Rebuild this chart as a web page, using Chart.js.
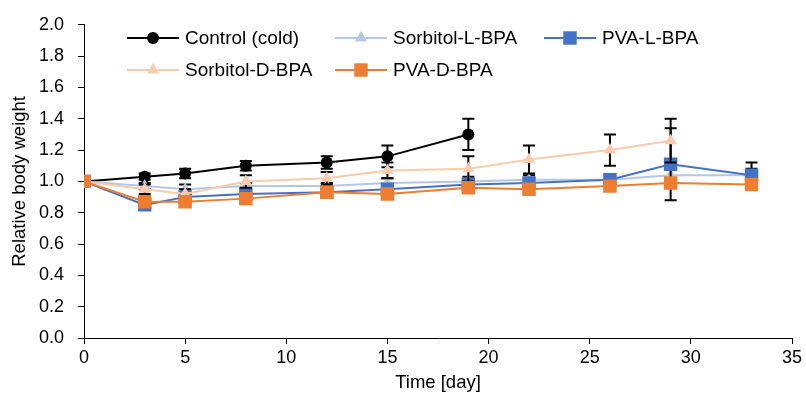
<!DOCTYPE html>
<html>
<head>
<meta charset="utf-8">
<script src="https://cdn.jsdelivr.net/npm/chart.js@4/dist/chart.umd.min.js"></script>
<style>
  body { margin: 0; background: #fff; }
  canvas { display: block; }
</style>
</head>
<body>
<canvas id="bwChart" width="806" height="401"></canvas>
<script>
const days = [0, 3, 5, 8, 12, 15, 19, 22, 26, 29, 33];
const xTicks = [0, 5, 10, 15, 20, 25, 30, 35];
const yTicks = [0, 0.2, 0.4, 0.6, 0.8, 1.0, 1.2, 1.4, 1.6, 1.8, 2.0];

const control = [1.00, 1.03, 1.05, 1.10, 1.12, 1.16, 1.30];
const controlErr = [0, 0.02, 0.03, 0.03, 0.04, 0.07, 0.10];
const sorbitolL = [1.00, 0.97, 0.95, 0.97, 0.97, 0.99, 1.00, 1.01, 1.01, 1.04, 1.04];
const sorbitolLErr = [0, 0.02, 0.03, 0.02, 0.02, 0.03, 0.03, 0.03, 0.03, 0.04, 0.04];
const pvaL = [1.00, 0.85, 0.90, 0.92, 0.93, 0.95, 0.98, 0.99, 1.01, 1.11, 1.04];
const pvaLErr = [0, 0.03, 0.03, 0.03, 0.03, 0.03, 0.03, 0.03, 0.03, 0.23, 0.08];
const sorbitolD = [1.00, 0.95, 0.92, 1.00, 1.02, 1.07, 1.08, 1.14, 1.20, 1.26];
const sorbitolDErr = [0, 0.03, 0.03, 0.04, 0.04, 0.05, 0.08, 0.09, 0.10, 0.14];
const pvaD = [1.00, 0.87, 0.87, 0.89, 0.93, 0.92, 0.96, 0.95, 0.97, 0.99, 0.98];
const pvaDErr = [0, 0.02, 0.02, 0.02, 0.02, 0.02, 0.02, 0.02, 0.02, 0.02, 0.03];

function toPoints(values) {
  return values.map((v, i) => ({ x: days[i], y: v }));
}

function makeDataset(label, values, errors, color, style, radius, order) {
  return {
    label: label,
    data: toPoints(values),
    errors: errors,
    borderColor: color,
    backgroundColor: color,
    pointBackgroundColor: color,
    pointBorderColor: color,
    pointBorderWidth: 0,
    pointStyle: style,
    pointRadius: radius,
    borderWidth: 2,
    tension: 0,
    fill: false,
    order: order,
  };
}

// draws the error bars under each series' line and markers
const errorBars = {
  id: "errorBars",
  beforeDatasetDraw(chart, args) {
    const ds = chart.data.datasets[args.index];
    if (!ds.errors) return;
    const ctx = chart.ctx;
    const xs = chart.scales.x;
    const ys = chart.scales.y;
    ctx.save();
    ctx.strokeStyle = "#000";
    ctx.lineWidth = 2;
    ds.data.forEach((p, i) => {
      const e = ds.errors[i];
      if (!e) return;
      const x = xs.getPixelForValue(p.x);
      const top = ys.getPixelForValue(p.y + e);
      const bot = ys.getPixelForValue(p.y - e);
      ctx.beginPath();
      ctx.moveTo(x, top); ctx.lineTo(x, bot);
      ctx.moveTo(x - 6, top); ctx.lineTo(x + 6, top);
      ctx.moveTo(x - 6, bot); ctx.lineTo(x + 6, bot);
      ctx.stroke();
    });
    ctx.restore();
  },
};

function drawMarker(ctx, style, r, x, y) {
  ctx.beginPath();
  if (style === "circle") {
    ctx.arc(x, y, r, 0, Math.PI * 2);
  } else if (style === "rect") {
    const s = r * Math.SQRT1_2;
    ctx.rect(x - s, y - s, 2 * s, 2 * s);
  } else {
    for (let k = 0; k < 3; k++) {
      const a = k * 2 * Math.PI / 3;
      const px = x + Math.sin(a) * r, py = y - Math.cos(a) * r;
      if (k === 0) ctx.moveTo(px, py); else ctx.lineTo(px, py);
    }
    ctx.closePath();
  }
  ctx.fill();
}

// legend inside the plot, two rows like the excel original
const insideLegend = {
  id: "insideLegend",
  afterDraw(chart) {
    const ctx = chart.ctx;
    const slots = [[127, 38], [335, 38], [544, 38], [127, 70], [335, 70]];
    ctx.save();
    ctx.font = "19px 'Liberation Sans', Arial, sans-serif";
    ctx.textBaseline = "middle";
    chart.data.datasets.forEach((ds, i) => {
      const [x, y] = slots[i];
      ctx.strokeStyle = ds.borderColor;
      ctx.fillStyle = ds.borderColor;
      ctx.lineWidth = 2;
      ctx.beginPath();
      ctx.moveTo(x, y); ctx.lineTo(x + 52, y);
      ctx.stroke();
      drawMarker(ctx, ds.pointStyle, ds.pointRadius, x + 26, y);
      ctx.fillStyle = "#000";
      ctx.fillText(ds.label, x + 58, y + 1);
    });
    ctx.restore();
  },
};

const font = { family: "'Liberation Sans', Arial, sans-serif", size: 18 };

new Chart(document.getElementById("bwChart"), {
  type: "line",
  data: {
    datasets: [
      makeDataset("Control (cold)", control, controlErr, "#000000", "circle", 6, 5),
      makeDataset("Sorbitol-L-BPA", sorbitolL, sorbitolLErr, "#B4C7E7", "triangle", 7, 4),
      makeDataset("PVA-L-BPA", pvaL, pvaLErr, "#4472C4", "rect", 9.5, 3),
      makeDataset("Sorbitol-D-BPA", sorbitolD, sorbitolDErr, "#F8CBAD", "triangle", 7, 2),
      makeDataset("PVA-D-BPA", pvaD, pvaDErr, "#ED7D31", "rect", 9.5, 1),
    ],
  },
  options: {
    responsive: false,
    animation: false,
    layout: { padding: { top: 24, right: 14, left: 0, bottom: 0 } },
    plugins: { legend: { display: false }, tooltip: { enabled: false } },
    scales: {
      x: {
        type: "linear",
        min: 0,
        max: 35,
        afterBuildTicks(scale) { scale.ticks = xTicks.map(v => ({ value: v })); },
        afterFit(scale) { scale.height = 63; },
        ticks: { color: "#000", font: font, padding: 3 },
        grid: { drawOnChartArea: false, drawTicks: true, tickLength: 6, color: "#000" },
        border: { display: true, color: "#000", width: 1 },
        title: {
          display: true,
          text: "Time [day]",
          color: "#000",
          font: { family: font.family, size: 18.5 },
          padding: { top: 4, bottom: 7 },
        },
      },
      y: {
        min: 0,
        max: 2,
        afterBuildTicks(scale) { scale.ticks = yTicks.map(v => ({ value: v })); },
        afterFit(scale) { scale.width = 84; },
        ticks: { color: "#000", font: font, padding: 14, callback: v => v.toFixed(1) },
        grid: { drawOnChartArea: false, drawTicks: true, tickLength: 6, color: "#000" },
        border: { display: true, color: "#000", width: 1 },
        title: {
          display: true,
          text: "Relative body weight",
          color: "#000",
          font: { family: font.family, size: 18.5 },
          padding: { top: 9, bottom: 0 },
        },
      },
    },
  },
  plugins: [errorBars, insideLegend],
});
</script>
</body>
</html>
